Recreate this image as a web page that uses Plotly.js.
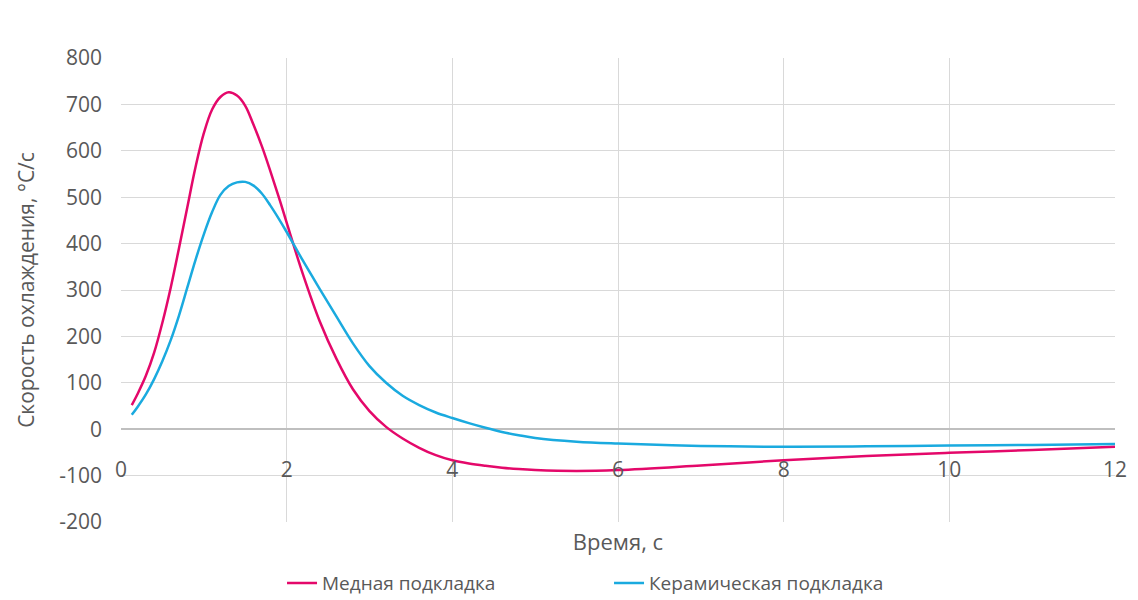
<!DOCTYPE html>
<html>
<head>
<meta charset="utf-8">
<script src="https://cdn.plot.ly/plotly-3.0.1.min.js"></script>
<style>
  body { margin: 0; background: #fff; }
  #chart { width: 1138px; height: 600px; }
</style>
</head>
<body>
<div id="chart"></div>
<script>
// время, с
var time = [0.13, 0.2, 0.3, 0.4, 0.5, 0.6, 0.7, 0.8, 0.9, 1.0, 1.1, 1.2, 1.3, 1.4, 1.5, 1.6, 1.7,
            1.8, 1.9, 2.0, 2.2, 2.4, 2.6, 2.8, 3.0, 3.2, 3.4, 3.6, 3.8, 4.0, 4.2, 4.4, 4.6, 4.8,
            5.0, 5.5, 6.0, 7.0, 8.0, 9.0, 10.0, 11.0, 12.0];
// скорость охлаждения, медная подкладка
var copper = [52, 76, 115, 165, 230, 305, 390, 478, 565, 638, 689, 716, 726, 719, 697, 656, 610,
              558, 503, 445, 332, 232, 152, 86, 39, 5, -20, -40, -56, -67, -74, -79, -83, -86,
              -88, -90, -88, -78, -67, -58, -51, -45, -38];
// скорость охлаждения, керамическая подкладка
var ceramic = [31, 48, 75, 108, 147, 192, 245, 305, 365, 420, 468, 505, 524, 532, 533, 525, 508,
               483, 455, 425, 362, 302, 243, 185, 136, 100, 72, 52, 36, 24, 13, 3, -6, -13,
               -19, -27, -31, -36, -38, -37, -35, -34, -32];
var names = ['Медная подкладка', 'Керамическая подкладка'];
var xTicks = [0, 2, 4, 6, 8, 10, 12];
var yTicks = [-200, -100, 0, 100, 200, 300, 400, 500, 600, 700, 800];
var yLabels = ['-200', '-100', '0', '100', '200', '300', '400', '500', '600', '700', '800'];

var fnt = 'Open Sans, Segoe UI, sans-serif';
var grey = '#595959';

var trace1 = {
  x: time, y: copper, type: 'scatter', mode: 'lines', name: names[0],
  line: {color: '#E4086A', width: 2.5, shape: 'spline', smoothing: 1}
};
var trace2 = {
  x: time, y: ceramic, type: 'scatter', mode: 'lines', name: names[1],
  line: {color: '#1AAADF', width: 2.5, shape: 'spline', smoothing: 1}
};
// invisible trace just to carry the x axis drawn on the zero line
var trace3 = {
  x: [0, 12], y: [0, 0], xaxis: 'x2', type: 'scatter', mode: 'lines',
  line: {color: 'rgba(0,0,0,0)'}, showlegend: false, hoverinfo: 'skip'
};

var layout = {
  width: 1138, height: 600,
  margin: {l: 121, r: 23, t: 58, b: 78},
  paper_bgcolor: '#fff', plot_bgcolor: '#fff',
  font: {family: fnt, color: grey},
  showlegend: true,
  xaxis: {
    range: [0, 12], tickvals: xTicks, showticklabels: false,
    showgrid: true, gridcolor: '#d9d9d9', gridwidth: 1,
    zeroline: false, showline: false, automargin: false,
    title: {text: 'Время, с', font: {size: 22, color: grey, family: fnt}, standoff: 12}
  },
  xaxis2: {
    range: [0, 12], tickvals: xTicks, overlaying: 'x', anchor: 'free', position: 0.2,
    showgrid: false, zeroline: false, showline: false, ticks: '',
    ticklabelstandoff: 26, automargin: false,
    tickfont: {size: 21, color: grey, family: fnt}
  },
  yaxis: {
    range: [-200, 800], tickvals: yTicks, ticktext: yLabels, automargin: false,
    showgrid: true, gridcolor: '#d9d9d9', gridwidth: 1,
    zeroline: true, zerolinecolor: '#bfbfbf', zerolinewidth: 1.5,
    showline: false, ticks: '', ticklabelstandoff: 18,
    tickfont: {size: 21, color: grey, family: fnt},
    title: {text: 'Скорость охлаждения, °C/с', font: {size: 21, color: grey, family: fnt}, standoff: 18}
  },
  legend: {
    orientation: 'h', x: 0.162, xanchor: 'left',
    yref: 'container', y: 0.028, yanchor: 'middle',
    font: {size: 19, color: grey, family: fnt}, itemwidth: 30,
    entrywidth: 282
  }
};

Plotly.newPlot('chart', [trace1, trace2, trace3], layout, {displayModeBar: false, staticPlot: true});
</script>
</body>
</html>
